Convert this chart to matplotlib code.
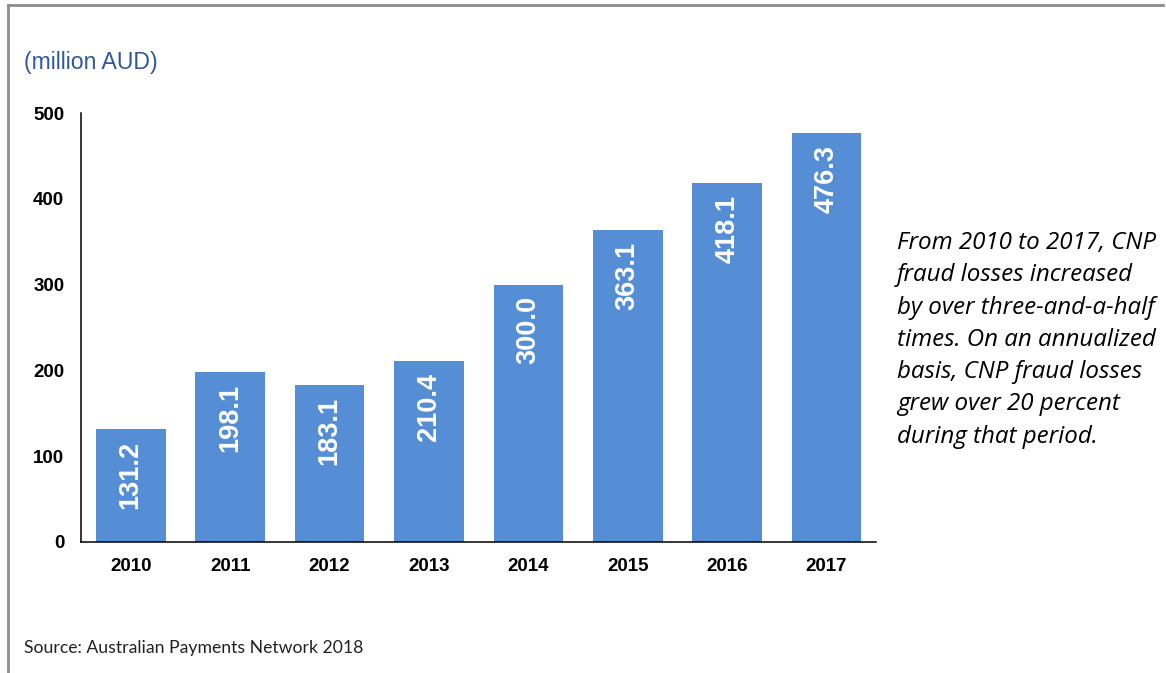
import matplotlib
matplotlib.use("Agg")
import matplotlib.pyplot as plt
from matplotlib.lines import Line2D

# CNP fraud losses in Australia, million AUD
years = ["2010", "2011", "2012", "2013", "2014", "2015", "2016", "2017"]
losses = [131.2, 198.1, 183.1, 210.4, 300.0, 363.1, 418.1, 476.3]
y_ticks = [0, 100, 200, 300, 400, 500]

note_lines = [
    "From 2010 to 2017, CNP",
    "fraud losses increased",
    "by over three-and-a-half",
    "times. On an annualized",
    "basis, CNP fraud losses",
    "grew over 20 percent",
    "during that period.",
]

BAR_COLOR = "#558ED5"
UNIT_COLOR = "#2F5A93"

fig = plt.figure(figsize=(11.66, 6.73), dpi=100)
ax = fig.add_axes([0.0695, 0.195, 0.682, 0.637])

x = range(len(years))
bars = ax.bar(x, losses, width=0.70, color=BAR_COLOR, zorder=2)

# value labels, rotated, just inside the top of each bar
for bar, val in zip(bars, losses):
    ax.annotate(f"{val:.1f}", (bar.get_x() + bar.get_width() / 2, val),
                xytext=(0, -8.5), textcoords="offset points",
                rotation=90, ha="center", va="top",
                color="white", fontsize=19.5, fontweight="bold",
                family="Liberation Sans")

ax.set_xlim(-0.5, len(years) - 0.5)
ax.set_ylim(0, 500)
ax.set_xticks(list(x))
ax.set_xticklabels(years)
ax.set_yticks(y_ticks)
ax.tick_params(length=0)
ax.tick_params(axis="x", pad=11.5)
ax.tick_params(axis="y", pad=12)
for lbl in ax.get_xticklabels() + ax.get_yticklabels():
    lbl.set_fontfamily("Liberation Sans")
    lbl.set_fontweight("bold")
    lbl.set_fontsize(13.5)

for side in ("top", "right"):
    ax.spines[side].set_visible(False)
for side in ("left", "bottom"):
    ax.spines[side].set_linewidth(1.1)
    ax.spines[side].set_color("black")

fig.text(24 / 1166, 1 - 62 / 673, "(million AUD)", color=UNIT_COLOR,
         fontsize=16.6, family="Liberation Sans", va="center", ha="left")

for i, line in enumerate(note_lines):
    fig.text(897 / 1166, 1 - (243 + i * 32.3) / 673, line, fontsize=17.4,
             style="italic", family="Open Sans", va="center", ha="left")

fig.text(24 / 1166, 1 - 648 / 673, "Source: Australian Payments Network 2018",
         fontsize=12.7, family="Lato", va="center", ha="left", color="#222222")

# grey frame along the top and left edge
fig.add_artist(Line2D([8 / 1166, 1163 / 1166], [1 - 5 / 673, 1 - 5 / 673],
                      color="#8c8c8c", lw=2, transform=fig.transFigure))
fig.add_artist(Line2D([8 / 1166, 8 / 1166], [1 - 5 / 673, 0],
                      color="#8c8c8c", lw=2, transform=fig.transFigure))

fig.savefig("out.png", dpi=100, facecolor="white")
